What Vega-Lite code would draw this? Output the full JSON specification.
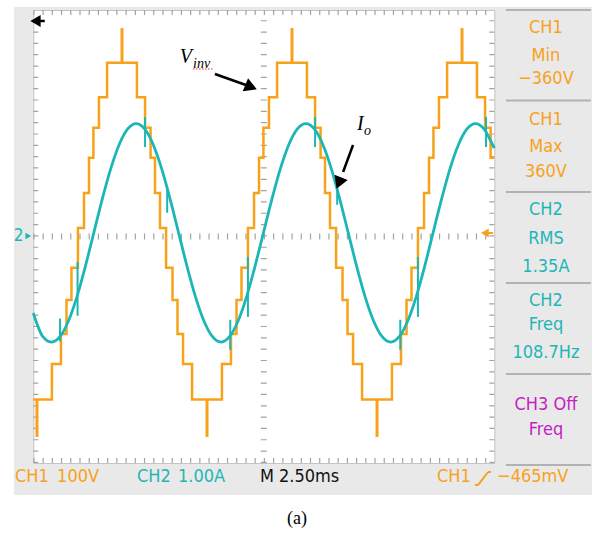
{
"$schema": "https://vega.github.io/schema/vega-lite/v6.json",
"width": 461,
"height": 453,
"autosize": {"type": "none"},
"padding": {"left": 33.3, "top": 10, "right": 102.7, "bottom": 70},
"background": "#e9e9e9",
"config": {"view": {"fill": "white", "stroke": "#c4c4c4", "strokeWidth": 1}},
"datasets": {
"one": [{}],
"ch1": [{"t":0,"v":-288},{"t":1.01,"v":-225},{"t":1.5,"v":-172},{"t":1.8,"v":-112},{"t":2.07,"v":-55},{"t":2.42,"v":15},{"t":2.75,"v":77},{"t":3.02,"v":139},{"t":3.26,"v":192},{"t":3.56,"v":246},{"t":4.0,"v":307},{"t":5.62,"v":246},{"t":6.06,"v":192},{"t":6.36,"v":139},{"t":6.6,"v":77},{"t":6.87,"v":15},{"t":7.2,"v":-55},{"t":7.55,"v":-112},{"t":7.82,"v":-172},{"t":8.12,"v":-225},{"t":8.61,"v":-288},
{"t":10.23,"v":-225},{"t":10.72,"v":-172},{"t":11.02,"v":-112},{"t":11.29,"v":-55},{"t":11.64,"v":15},{"t":11.97,"v":77},{"t":12.24,"v":139},{"t":12.48,"v":192},{"t":12.78,"v":246},{"t":13.22,"v":307},{"t":14.84,"v":246},{"t":15.28,"v":192},{"t":15.58,"v":139},{"t":15.82,"v":77},{"t":16.09,"v":15},{"t":16.42,"v":-55},{"t":16.77,"v":-112},{"t":17.04,"v":-172},{"t":17.34,"v":-225},{"t":17.83,"v":-288},
{"t":19.45,"v":-225},{"t":19.94,"v":-172},{"t":20.24,"v":-112},{"t":20.51,"v":-55},{"t":20.86,"v":15},{"t":21.19,"v":77},{"t":21.46,"v":139},{"t":21.7,"v":192},{"t":22.0,"v":246},{"t":22.44,"v":307},{"t":24.06,"v":246},{"t":24.5,"v":192},{"t":24.8,"v":139},{"t":25,"v":139}],
"ch1spikes": [{"t":0.2,"v1":-288,"v2":-354},{"t":4.81,"v1":307,"v2":368},{"t":9.42,"v1":-288,"v2":-354},{"t":14.03,"v1":307,"v2":368},{"t":18.64,"v1":-288,"v2":-354},{"t":23.25,"v1":307,"v2":368}],
"ch2": [{"t":0,"i":-1.35},{"t":0.52,"i":-1.77},{"t":0.98,"i":-1.865},{"t":1.44,"i":-1.77},{"t":1.9,"i":-1.496},{"t":2.36,"i":-1.07},{"t":2.82,"i":-0.531},{"t":3.28,"i":0.065},{"t":3.74,"i":0.661},{"t":4.2,"i":1.2},{"t":4.66,"i":1.626},{"t":5.12,"i":1.9},{"t":5.58,"i":1.995},{"t":6.04,"i":1.9},{"t":6.5,"i":1.626},{"t":6.96,"i":1.2},{"t":7.42,"i":0.661},{"t":7.88,"i":0.065},{"t":8.34,"i":-0.531},{"t":8.8,"i":-1.07},{"t":9.26,"i":-1.496},{"t":9.72,"i":-1.77},{"t":10.18,"i":-1.865},{"t":10.64,"i":-1.77},{"t":11.1,"i":-1.496},{"t":11.56,"i":-1.07},{"t":12.02,"i":-0.531},{"t":12.48,"i":0.065},{"t":12.94,"i":0.661},{"t":13.4,"i":1.2},{"t":13.86,"i":1.626},{"t":14.32,"i":1.9},{"t":14.78,"i":1.995},{"t":15.24,"i":1.9},{"t":15.7,"i":1.626},{"t":16.16,"i":1.2},{"t":16.62,"i":0.661},{"t":17.08,"i":0.065},{"t":17.54,"i":-0.531},{"t":18.0,"i":-1.07},{"t":18.46,"i":-1.496},{"t":18.92,"i":-1.77},{"t":19.38,"i":-1.865},{"t":19.84,"i":-1.77},{"t":20.3,"i":-1.496},{"t":20.76,"i":-1.07},{"t":21.22,"i":-0.531},{"t":21.68,"i":0.065},{"t":22.14,"i":0.661},{"t":22.6,"i":1.2},{"t":23.06,"i":1.626},{"t":23.52,"i":1.9},{"t":23.98,"i":1.995},{"t":24.44,"i":1.9},{"t":24.9,"i":1.626},{"t":25,"i":1.56}],
"ch2spikes": [{"t":1.45,"i1":-1.45,"i2":-1.85},{"t":2.4,"i1":-0.45,"i2":-1.4},{"t":6.06,"i1":2.11,"i2":1.58},{"t":7.26,"i1":0.87,"i2":0.42},{"t":10.68,"i1":-1.47,"i2":-2.0},{"t":11.64,"i1":-0.36,"i2":-1.42},{"t":15.28,"i1":2.11,"i2":1.58},{"t":16.48,"i1":0.94,"i2":0.56},{"t":19.9,"i1":-1.47,"i2":-2.0},{"t":20.86,"i1":-0.36,"i2":-1.42},{"t":24.55,"i1":2.11,"i2":1.58}]
},
"resolve": {"scale": {"y": "independent"}},
"layer": [
{"layer": [
{"data":{"name":"one"},"mark":{"type":"rect","color":"white"},"encoding":{
"x":{"datum":-1.81,"type":"quantitative","scale":{"domain":[0,25],"nice":false,"zero":false},"axis":{"values":[2.5,5,7.5,10,15,17.5,20,22.5],"grid":true,"gridDash":[1.5,9.825],"gridColor":"#9b9b9b","gridWidth":1.5,"labels":false,"ticks":false,"domain":false,"title":null}},
"x2":{"datum":30.58},
"y":{"datum":417.7,"type":"quantitative","scale":{"domain":[-400,400],"nice":false,"zero":false},"axis":{"values":[-300,-200,-100,100,200,300],"grid":true,"gridDash":[1.5,7.72],"gridColor":"#9b9b9b","gridWidth":1.5,"labels":false,"ticks":false,"domain":false,"title":null}},
"y2":{"datum":405.3}}},
{"data":{"name":"one"},"mark":{"type":"rect","color":"white"},"encoding":{"x":{"datum":-1.81,"type":"quantitative","axis":null},"x2":{"datum":-1.05},"y":{"datum":417.7,"type":"quantitative","axis":null},"y2":{"datum":-523.6}}},
{"data":{"name":"one"},"mark":{"type":"rect","color":"white"},"encoding":{"x":{"datum":30.3,"type":"quantitative","axis":null},"x2":{"datum":30.58},"y":{"datum":417.7,"type":"quantitative","axis":null},"y2":{"datum":-523.6}}},
{"data":{"name":"one"},"mark":{"type":"rect","color":"white"},"encoding":{"x":{"datum":-1.81,"type":"quantitative","axis":null},"x2":{"datum":30.58},"y":{"datum":-456.5,"type":"quantitative","axis":null},"y2":{"datum":-523.6}}},
{"data":{"name":"one"},"mark":{"type":"rule","color":"#a3a3a3","strokeWidth":6,"strokeDash":[1.2,8.02]},"encoding":{"x":{"datum":0,"type":"quantitative","axis":null},"x2":{"datum":25},"y":{"datum":0,"type":"quantitative","axis":null}}},
{"data":{"name":"one"},"mark":{"type":"rule","color":"#a3a3a3","strokeWidth":6,"strokeDash":[1.2,10.125]},"encoding":{"x":{"datum":12.5,"type":"quantitative","axis":null},"y":{"datum":-400,"type":"quantitative","axis":null},"y2":{"datum":400}}},
{"data":{"name":"one"},"mark":{"type":"rule","color":"#a3a3a3","strokeWidth":5,"strokeDash":[1.2,8.02]},"encoding":{"x":{"datum":0,"type":"quantitative","axis":null},"x2":{"datum":25},"y":{"datum":395.6,"type":"quantitative","axis":null}}},
{"data":{"name":"one"},"mark":{"type":"rule","color":"#a3a3a3","strokeWidth":5,"strokeDash":[1.2,8.02]},"encoding":{"x":{"datum":0,"type":"quantitative","axis":null},"x2":{"datum":25},"y":{"datum":-395.6,"type":"quantitative","axis":null}}},
{"data":{"name":"one"},"mark":{"type":"rule","color":"#a3a3a3","strokeWidth":5,"strokeDash":[1.2,10.125]},"encoding":{"x":{"datum":0.136,"type":"quantitative","axis":null},"y":{"datum":-400,"type":"quantitative","axis":null},"y2":{"datum":400}}},
{"data":{"name":"one"},"mark":{"type":"rule","color":"#a3a3a3","strokeWidth":5,"strokeDash":[1.2,10.125]},"encoding":{"x":{"datum":24.864,"type":"quantitative","axis":null},"y":{"datum":-400,"type":"quantitative","axis":null},"y2":{"datum":400}}},
{"data":{"name":"ch1"},"mark":{"type":"line","color":"#f7a21b","strokeWidth":2.5,"interpolate":"step-after"},"encoding":{"x":{"field":"t","type":"quantitative","axis":null},"y":{"field":"v","type":"quantitative","axis":null}}},
{"data":{"name":"ch1spikes"},"mark":{"type":"rule","color":"#f7a21b","strokeWidth":3},"encoding":{"x":{"field":"t","type":"quantitative","axis":null},"y":{"field":"v1","type":"quantitative","axis":null},"y2":{"field":"v2"}}}
]},
{"layer": [
{"data":{"name":"ch2"},"mark":{"type":"line","color":"#1db6b6","strokeWidth":2.8,"interpolate":"monotone"},"encoding":{"x":{"field":"t","type":"quantitative","scale":{"domain":[0,25],"nice":false,"zero":false},"axis":null},"y":{"field":"i","type":"quantitative","scale":{"domain":[-4,4],"nice":false,"zero":false},"axis":null}}},
{"data":{"name":"ch2spikes"},"mark":{"type":"rule","color":"#1db6b6","strokeWidth":2},"encoding":{"x":{"field":"t","type":"quantitative","axis":null},"y":{"field":"i1","type":"quantitative","axis":null},"y2":{"field":"i2"}}}
]},
{"layer": [
{"data":{"name":"one"},"mark":{"type":"rule","color":"black","strokeWidth":2.5},"encoding":{"x":{"datum":9.85,"type":"quantitative","axis":null},"x2":{"datum":11.53},"y":{"datum":287.0,"type":"quantitative","scale":{"domain":[-400,400],"nice":false,"zero":false},"axis":null},"y2":{"datum":267.5}}},
{"data":{"name":"one"},"mark":{"type":"point","shape":"triangle-right","filled":true,"color":"black","opacity":1,"size":200,"angle":22},"encoding":{"x":{"datum":11.81,"type":"quantitative","axis":null},"y":{"datum":264.0,"type":"quantitative","axis":null}}},
{"data":{"name":"one"},"mark":{"type":"rule","color":"black","strokeWidth":2.5},"encoding":{"x":{"datum":17.34,"type":"quantitative","axis":null},"x2":{"datum":16.8},"y":{"datum":161.6,"type":"quantitative","axis":null},"y2":{"datum":113.9}}},
{"data":{"name":"one"},"mark":{"type":"point","shape":"triangle-right","filled":true,"color":"black","opacity":1,"size":200,"angle":111.6},"encoding":{"x":{"datum":16.57,"type":"quantitative","axis":null},"y":{"datum":94.5,"type":"quantitative","axis":null}}},
{"data":{"name":"one"},"mark":{"type":"text","text":"V","font":"Liberation Serif, Times New Roman, serif","fontStyle":"italic","fontSize":20,"color":"black","align":"center","baseline":"middle"},"encoding":{"x":{"datum":8.28,"type":"quantitative","axis":null},"y":{"datum":317,"type":"quantitative","axis":null}}},
{"data":{"name":"one"},"mark":{"type":"text","text":"inv","font":"Liberation Serif, Times New Roman, serif","fontStyle":"italic","fontSize":14,"color":"black","align":"left","baseline":"middle"},"encoding":{"x":{"datum":8.66,"type":"quantitative","axis":null},"y":{"datum":304.6,"type":"quantitative","axis":null}}},
{"data":{"name":"one"},"mark":{"type":"rule","color":"#e03030","strokeWidth":1.2,"strokeDash":[1.5,1.5]},"encoding":{"x":{"datum":8.66,"type":"quantitative","axis":null},"x2":{"datum":9.75},"y":{"datum":295.8,"type":"quantitative","axis":null}}},
{"data":{"name":"one"},"mark":{"type":"text","text":"I","font":"Liberation Serif, Times New Roman, serif","fontStyle":"italic","fontSize":20,"color":"black","align":"center","baseline":"middle"},"encoding":{"x":{"datum":17.73,"type":"quantitative","axis":null},"y":{"datum":198.7,"type":"quantitative","axis":null}}},
{"data":{"name":"one"},"mark":{"type":"text","text":"o","font":"Liberation Serif, Times New Roman, serif","fontStyle":"italic","fontSize":14,"color":"black","align":"left","baseline":"middle"},"encoding":{"x":{"datum":17.93,"type":"quantitative","axis":null},"y":{"datum":186.3,"type":"quantitative","axis":null}}},
{"data":{"name":"one"},"mark":{"type":"text","text":"2","font":"Liberation Sans Narrow, DejaVu Sans Condensed, Arial Narrow, sans-serif","fontSize":17,"color":"#1db6b6","align":"center","baseline":"middle"},"encoding":{"x":{"datum":-0.8,"type":"quantitative","axis":null},"y":{"datum":0.9,"type":"quantitative","axis":null}}},
{"data":{"name":"one"},"mark":{"type":"point","shape":"triangle-right","filled":true,"color":"#1db6b6","opacity":1,"size":45},"encoding":{"x":{"datum":-0.27,"type":"quantitative","axis":null},"y":{"datum":0.9,"type":"quantitative","axis":null}}},
{"data":{"name":"one"},"mark":{"type":"point","shape":"triangle-left","filled":true,"color":"black","opacity":1,"size":140},"encoding":{"x":{"datum":0.12,"type":"quantitative","axis":null},"y":{"datum":380.6,"type":"quantitative","axis":null}}},
{"data":{"name":"one"},"mark":{"type":"rule","color":"black","strokeWidth":2.5},"encoding":{"x":{"datum":0.12,"type":"quantitative","axis":null},"x2":{"datum":0.62},"y":{"datum":380.6,"type":"quantitative","axis":null}}},
{"data":{"name":"one"},"mark":{"type":"point","shape":"triangle-left","filled":true,"color":"#f7a21b","opacity":1,"size":80},"encoding":{"x":{"datum":24.49,"type":"quantitative","axis":null},"y":{"datum":6.2,"type":"quantitative","axis":null}}},
{"data":{"name":"one"},"mark":{"type":"rule","color":"#f7a21b","strokeWidth":2},"encoding":{"x":{"datum":24.49,"type":"quantitative","axis":null},"x2":{"datum":24.94},"y":{"datum":6.2,"type":"quantitative","axis":null}}},
{"data":{"name":"one"},"mark":{"type":"rule","color":"#b2b2b2","strokeWidth":2},"encoding":{"x":{"datum":25.63,"type":"quantitative","axis":null},"x2":{"datum":30.24},"y":{"datum":400,"type":"quantitative","axis":null}}},
{"data":{"name":"one"},"mark":{"type":"rule","color":"#b2b2b2","strokeWidth":2},"encoding":{"x":{"datum":25.63,"type":"quantitative","axis":null},"x2":{"datum":30.24},"y":{"datum":240.2,"type":"quantitative","axis":null}}},
{"data":{"name":"one"},"mark":{"type":"rule","color":"#b2b2b2","strokeWidth":2},"encoding":{"x":{"datum":25.63,"type":"quantitative","axis":null},"x2":{"datum":30.24},"y":{"datum":78.6,"type":"quantitative","axis":null}}},
{"data":{"name":"one"},"mark":{"type":"rule","color":"#b2b2b2","strokeWidth":2},"encoding":{"x":{"datum":25.63,"type":"quantitative","axis":null},"x2":{"datum":30.24},"y":{"datum":-82.1,"type":"quantitative","axis":null}}},
{"data":{"name":"one"},"mark":{"type":"rule","color":"#b2b2b2","strokeWidth":2},"encoding":{"x":{"datum":25.63,"type":"quantitative","axis":null},"x2":{"datum":30.24},"y":{"datum":-242.8,"type":"quantitative","axis":null}}},
{"data":{"name":"one"},"mark":{"type":"rule","color":"#b2b2b2","strokeWidth":2},"encoding":{"x":{"datum":25.63,"type":"quantitative","axis":null},"x2":{"datum":30.24},"y":{"datum":-403.5,"type":"quantitative","axis":null}}},
{"data":{"name":"one"},"mark":{"type":"text","text":"CH1","font":"Liberation Sans Narrow, DejaVu Sans Condensed, Arial Narrow, sans-serif","fontSize":18,"color":"#f7a21b","align":"center","baseline":"middle"},"encoding":{"x":{"datum":27.8,"type":"quantitative","axis":null},"y":{"datum":368.2,"type":"quantitative","axis":null}}},
{"data":{"name":"one"},"mark":{"type":"text","text":"Min","font":"Liberation Sans Narrow, DejaVu Sans Condensed, Arial Narrow, sans-serif","fontSize":18,"color":"#f7a21b","align":"center","baseline":"middle"},"encoding":{"x":{"datum":27.8,"type":"quantitative","axis":null},"y":{"datum":318.8,"type":"quantitative","axis":null}}},
{"data":{"name":"one"},"mark":{"type":"text","text":"−360V","font":"Liberation Sans Narrow, DejaVu Sans Condensed, Arial Narrow, sans-serif","fontSize":18,"color":"#f7a21b","align":"center","baseline":"middle"},"encoding":{"x":{"datum":27.8,"type":"quantitative","axis":null},"y":{"datum":278.1,"type":"quantitative","axis":null}}},
{"data":{"name":"one"},"mark":{"type":"text","text":"CH1","font":"Liberation Sans Narrow, DejaVu Sans Condensed, Arial Narrow, sans-serif","fontSize":18,"color":"#f7a21b","align":"center","baseline":"middle"},"encoding":{"x":{"datum":27.8,"type":"quantitative","axis":null},"y":{"datum":205.7,"type":"quantitative","axis":null}}},
{"data":{"name":"one"},"mark":{"type":"text","text":"Max","font":"Liberation Sans Narrow, DejaVu Sans Condensed, Arial Narrow, sans-serif","fontSize":18,"color":"#f7a21b","align":"center","baseline":"middle"},"encoding":{"x":{"datum":27.8,"type":"quantitative","axis":null},"y":{"datum":158.1,"type":"quantitative","axis":null}}},
{"data":{"name":"one"},"mark":{"type":"text","text":"360V","font":"Liberation Sans Narrow, DejaVu Sans Condensed, Arial Narrow, sans-serif","fontSize":18,"color":"#f7a21b","align":"center","baseline":"middle"},"encoding":{"x":{"datum":27.8,"type":"quantitative","axis":null},"y":{"datum":113.9,"type":"quantitative","axis":null}}},
{"data":{"name":"one"},"mark":{"type":"text","text":"CH2","font":"Liberation Sans Narrow, DejaVu Sans Condensed, Arial Narrow, sans-serif","fontSize":18,"color":"#1db6b6","align":"center","baseline":"middle"},"encoding":{"x":{"datum":27.8,"type":"quantitative","axis":null},"y":{"datum":46.8,"type":"quantitative","axis":null}}},
{"data":{"name":"one"},"mark":{"type":"text","text":"RMS","font":"Liberation Sans Narrow, DejaVu Sans Condensed, Arial Narrow, sans-serif","fontSize":18,"color":"#1db6b6","align":"center","baseline":"middle"},"encoding":{"x":{"datum":27.8,"type":"quantitative","axis":null},"y":{"datum":-4.4,"type":"quantitative","axis":null}}},
{"data":{"name":"one"},"mark":{"type":"text","text":"1.35A","font":"Liberation Sans Narrow, DejaVu Sans Condensed, Arial Narrow, sans-serif","fontSize":18,"color":"#1db6b6","align":"center","baseline":"middle"},"encoding":{"x":{"datum":27.8,"type":"quantitative","axis":null},"y":{"datum":-53.9,"type":"quantitative","axis":null}}},
{"data":{"name":"one"},"mark":{"type":"text","text":"CH2","font":"Liberation Sans Narrow, DejaVu Sans Condensed, Arial Narrow, sans-serif","fontSize":18,"color":"#1db6b6","align":"center","baseline":"middle"},"encoding":{"x":{"datum":27.8,"type":"quantitative","axis":null},"y":{"datum":-113.9,"type":"quantitative","axis":null}}},
{"data":{"name":"one"},"mark":{"type":"text","text":"Freq","font":"Liberation Sans Narrow, DejaVu Sans Condensed, Arial Narrow, sans-serif","fontSize":18,"color":"#1db6b6","align":"center","baseline":"middle"},"encoding":{"x":{"datum":27.8,"type":"quantitative","axis":null},"y":{"datum":-156.3,"type":"quantitative","axis":null}}},
{"data":{"name":"one"},"mark":{"type":"text","text":"108.7Hz","font":"Liberation Sans Narrow, DejaVu Sans Condensed, Arial Narrow, sans-serif","fontSize":18,"color":"#1db6b6","align":"center","baseline":"middle"},"encoding":{"x":{"datum":27.8,"type":"quantitative","axis":null},"y":{"datum":-205.7,"type":"quantitative","axis":null}}},
{"data":{"name":"one"},"mark":{"type":"text","text":"CH3 Off","font":"Liberation Sans Narrow, DejaVu Sans Condensed, Arial Narrow, sans-serif","fontSize":18,"color":"#c21fc2","align":"center","baseline":"middle"},"encoding":{"x":{"datum":27.8,"type":"quantitative","axis":null},"y":{"datum":-297.6,"type":"quantitative","axis":null}}},
{"data":{"name":"one"},"mark":{"type":"text","text":"Freq","font":"Liberation Sans Narrow, DejaVu Sans Condensed, Arial Narrow, sans-serif","fontSize":18,"color":"#c21fc2","align":"center","baseline":"middle"},"encoding":{"x":{"datum":27.8,"type":"quantitative","axis":null},"y":{"datum":-341,"type":"quantitative","axis":null}}},
{"data":{"name":"one"},"mark":{"type":"text","text":"CH1","font":"Liberation Sans Narrow, DejaVu Sans Condensed, Arial Narrow, sans-serif","fontSize":18,"color":"#f7a21b","align":"left","baseline":"middle"},"encoding":{"x":{"datum":-0.99,"type":"quantitative","axis":null},"y":{"datum":-424.7,"type":"quantitative","axis":null}}},
{"data":{"name":"one"},"mark":{"type":"text","text":"100V","font":"Liberation Sans Narrow, DejaVu Sans Condensed, Arial Narrow, sans-serif","fontSize":18,"color":"#f7a21b","align":"left","baseline":"middle"},"encoding":{"x":{"datum":1.29,"type":"quantitative","axis":null},"y":{"datum":-424.7,"type":"quantitative","axis":null}}},
{"data":{"name":"one"},"mark":{"type":"text","text":"CH2","font":"Liberation Sans Narrow, DejaVu Sans Condensed, Arial Narrow, sans-serif","fontSize":18,"color":"#1db6b6","align":"left","baseline":"middle"},"encoding":{"x":{"datum":5.62,"type":"quantitative","axis":null},"y":{"datum":-424.7,"type":"quantitative","axis":null}}},
{"data":{"name":"one"},"mark":{"type":"text","text":"1.00A","font":"Liberation Sans Narrow, DejaVu Sans Condensed, Arial Narrow, sans-serif","fontSize":18,"color":"#1db6b6","align":"left","baseline":"middle"},"encoding":{"x":{"datum":7.85,"type":"quantitative","axis":null},"y":{"datum":-424.7,"type":"quantitative","axis":null}}},
{"data":{"name":"one"},"mark":{"type":"text","text":"M 2.50ms","font":"Liberation Sans Narrow, DejaVu Sans Condensed, Arial Narrow, sans-serif","fontSize":18,"color":"#111111","align":"left","baseline":"middle"},"encoding":{"x":{"datum":12.29,"type":"quantitative","axis":null},"y":{"datum":-424.7,"type":"quantitative","axis":null}}},
{"data":{"name":"one"},"mark":{"type":"text","text":"CH1","font":"Liberation Sans Narrow, DejaVu Sans Condensed, Arial Narrow, sans-serif","fontSize":18,"color":"#f7a21b","align":"left","baseline":"middle"},"encoding":{"x":{"datum":21.89,"type":"quantitative","axis":null},"y":{"datum":-424.7,"type":"quantitative","axis":null}}},
{"data":{"name":"one"},"mark":{"type":"rule","color":"#f7a21b","strokeWidth":2},"encoding":{"x":{"datum":23.95,"type":"quantitative","axis":null},"x2":{"datum":24.12},"y":{"datum":-438.9,"type":"quantitative","axis":null}}},
{"data":{"name":"one"},"mark":{"type":"rule","color":"#f7a21b","strokeWidth":2},"encoding":{"x":{"datum":24.12,"type":"quantitative","axis":null},"x2":{"datum":24.66},"y":{"datum":-438.9,"type":"quantitative","axis":null},"y2":{"datum":-415.9}}},
{"data":{"name":"one"},"mark":{"type":"rule","color":"#f7a21b","strokeWidth":2},"encoding":{"x":{"datum":24.66,"type":"quantitative","axis":null},"x2":{"datum":24.82},"y":{"datum":-415.9,"type":"quantitative","axis":null}}},
{"data":{"name":"one"},"mark":{"type":"text","text":"−465mV","font":"Liberation Sans Narrow, DejaVu Sans Condensed, Arial Narrow, sans-serif","fontSize":18,"color":"#f7a21b","align":"left","baseline":"middle"},"encoding":{"x":{"datum":25.15,"type":"quantitative","axis":null},"y":{"datum":-424.7,"type":"quantitative","axis":null}}},
{"data":{"name":"one"},"mark":{"type":"text","text":"(a)","font":"Liberation Serif, Times New Roman, serif","fontSize":18,"color":"black","align":"center","baseline":"middle"},"encoding":{"x":{"datum":14.3,"type":"quantitative","axis":null},"y":{"datum":-498.9,"type":"quantitative","axis":null}}}
]}
]
}
